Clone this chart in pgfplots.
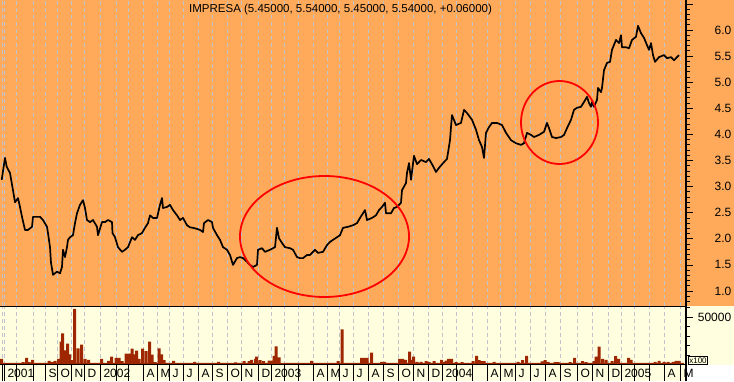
\documentclass[border=0pt]{standalone}
\usepackage{fontspec}
\setmainfont{Liberation Sans}
\usepackage{pgfplots}
\pgfplotsset{compat=1.18}
\definecolor{bgorange}{RGB}{255,170,90}
\definecolor{paleyel}{RGB}{255,255,224}
\definecolor{volbar}{RGB}{158,38,0}
\definecolor{gridc}{RGB}{195,195,205}
\begin{document}
\begin{tikzpicture}
\useasboundingbox (0pt,0pt) rectangle (734pt,381pt);
\fill[bgorange] (0pt,75pt) rectangle (734pt,381pt);
\fill[paleyel] (0pt,16.5pt) rectangle (734pt,75pt);
\fill[paleyel] (0pt,0pt) rectangle (686pt,16.5pt);
\pgfplotsset{
  common/.style={scale only axis, width=686pt, xmin=0, xmax=686, clip mode=individual,
    axis line style={draw=none},
    xtick={2,4,16,33,45,57,71,84,100,116,128,143,157,169,183,198,212,227,241,258,271,284,298,313,327,339,353,368,383,398,413,428,442,456,472,487,500,515,530,545,560,577,592,608,621,634,649,664,680},
    xmajorgrids, major x grid style={gridc, dash pattern=on 4pt off 3pt, line width=0.8pt},
    tick align=outside, ytick pos=right, yticklabel pos=right, xtick pos=bottom,
    major tick length=7pt, minor tick length=4pt,
    every tick/.style={black, line width=0.8pt},
    yticklabel style={anchor=east, xshift=41.8pt, font=\fontsize{12}{12}\selectfont},
  }
}
\begin{axis}[common, at={(0pt,75pt)}, anchor=south west, height=306pt, ymin=0.7126, ymax=6.575,
  xticklabels={}, xtick style={draw=none},
  ytick={1,1.5,2,2.5,3,3.5,4,4.5,5,5.5,6,6.5},
  yticklabels={1.0,1.5,2.0,2.5,3.0,3.5,4.0,4.5,5.0,5.5,6.0,},
  minor ytick={0.8,0.9,1.1,1.2,1.3,1.4,1.6,1.7,1.8,1.9,2.1,2.2,2.3,2.4,2.6,2.7,2.8,2.9,3.1,3.2,3.3,3.4,3.6,3.7,3.8,3.9,4.1,4.2,4.3,4.4,4.6,4.7,4.8,4.9,5.1,5.2,5.3,5.4,5.6,5.7,5.8,5.9,6.1,6.2,6.3,6.4}]
\addplot[black, line width=1.7pt, line join=round] coordinates {
(1.7,3.13) (5,3.55) (6.7,3.38) (10,3.26) (13,2.93) (15,2.70) (18,2.78) (20,2.61) (22,2.42) (25,2.17) (28,2.17) (32,2.23) (33,2.42) (37,2.42) (40,2.42) (43,2.36) (47,2.23) (48,2.11) (50,1.84) (51,1.54) (53,1.31) (57,1.37) (60,1.34) (62,1.46) (63,1.79) (65,1.65) (67,1.84) (68,1.98) (70,2.03) (73,2.07) (75,2.30) (77,2.49) (80,2.65) (83,2.74) (85,2.59) (87,2.36) (90,2.32) (93,2.36) (97,2.23) (98,2.07) (102,2.32) (105,2.32) (108,2.36) (112,2.32) (112.5,2.11)
(115,2.03) (118,1.84) (122,1.75) (125,1.79) (128,1.84) (132,2.03) (135,1.98) (138,2.07) (142,2.11) (145,2.21) (148,2.30) (150,2.45) (153,2.40) (157,2.40) (160,2.65) (162,2.78) (163,2.59) (167,2.61) (170,2.65) (173,2.55) (177,2.45) (180,2.36) (183,2.40) (187,2.26) (190,2.22) (193,2.21) (197,2.19) (200,2.17) (203,2.13) (204,2.30) (208,2.36) (212,2.32) (213,2.21) (217,2.07) (220,1.98) (223,1.84) (227,1.79) (230,1.69) (233,1.50) (237,1.63) (240,1.65) (243,1.63) (247,1.56) (250,1.50) (253,1.46) (257,1.50) (258,1.79) (262,1.82) (265,1.75) (270,1.79) (275,1.84) (277,2.21) (279,2.01) (282,1.92) (285,1.84) (290,1.82) (293,1.79) (297,1.65) (300,1.63) (303,1.63) (307,1.69) (310,1.69) (315,1.79) (318,1.73) (323,1.75) (327,1.88) (330,1.94) (333,1.98) (337,2.03) (340,2.07) (343,2.21) (348,2.23) (353,2.26) (357,2.30) (360,2.40) (363,2.49) (365,2.55) (367,2.36) (372,2.40) (376,2.45) (379,2.55) (382,2.61) (385,2.69) (386,2.49) (391,2.49) (394,2.59) (397,2.61) (401,2.69) (402,2.93) (406,3.07) (407,3.26) (409,3.45) (411,3.13) (414,3.59) (417,3.43) (421,3.51) (426,3.47) (429,3.53) (432,3.43) (436,3.28) (439,3.36) (444,3.47) (447,3.53) (450,3.89) (451,4.14) (452,4.37) (456,4.18) (461,4.22) (464,4.47) (467,4.41) (472,4.28) (476,4.09) (479,3.89) (482,3.76) (484,3.55) (486,4.03) (489,4.14) (492,4.22) (497,4.22) (502,4.18) (506,4.03) (511,3.89) (516,3.83) (521,3.80) (524,3.83) (527,4.03) (531,3.99) (534,3.95) (539,3.99) (544,4.05) (547,4.22) (549,4.12) (552,3.95) (556,3.93) (561,3.95) (564,3.99) (567,4.12) (571,4.28) (574,4.47) (577,4.51) (581,4.53) (584,4.62) (587,4.72) (589,4.60) (591,4.53) (592,4.62) (594,4.53) (597,4.66) (598,4.89) (601,4.81) (602,4.89) (604,5.23) (607,5.37) (610,5.39) (612,5.62) (616,5.81) (619,5.75) (621,5.90) (622,5.67) (626,5.67) (629,5.65) (632,5.81) (636,5.87) (638,6.08) (641,5.94) (644,5.85) (647,5.71) (649,5.62) (651,5.75) (653,5.52) (655,5.39) (659,5.48) (664,5.52) (667,5.46) (671,5.48) (674,5.42) (677,5.48) (679,5.52)
};
\end{axis}
\begin{axis}[common, at={(0pt,16.5pt)}, anchor=south west, height=58.5pt, ymin=0, ymax=61580,
  ytick={50000}, yticklabels={50000}, minor ytick={10000,20000,30000,40000,60000},
  scaled y ticks=false, xtick style={draw=none},
  xticklabels={,2001,,,S,O,N,D,2002,,,A,M,J,J,A,S,O,N,D,2003,,,A,M,J,J,A,S,O,N,D,2004,,,A,M,J,J,A,S,O,N,D,2005,,,A,M},
  xticklabel style={anchor=west, yshift=-1.5pt, font=\fontsize{12}{12}\selectfont}]
\addplot[ybar, bar width=6, bar shift=0pt, fill=volbar, draw=none] coordinates {
(3,1800)(9,1800)(15,1800)(21,1800)(27,1800)(33,1800)(39,1800)(45,1800)(51,1800)(57,1800)(63,1800)(69,1800)(75,1800)(81,1800)(87,1800)(93,1800)(99,1800)(105,1800)(111,1800)(117,1800)(123,1800)(129,1800)(135,1800)(141,1800)(147,1800)(153,1800)(159,1800)(165,1800)(171,1800)(177,1800)(183,1800)(189,1800)(195,1800)(201,1800)(207,1800)(213,1800)(219,1800)(225,1800)(231,1800)(237,1800)(243,1800)(249,1800)(255,1800)(261,1800)(267,1800)(273,1800)(279,1800)(285,1800)(291,1800)(297,1800)(303,1800)(309,1800)(315,1800)(321,1800)(327,1800)(333,1800)(339,1800)(345,1800)(351,1800)(357,1800)(363,1800)(369,1800)(375,1800)(381,1800)(387,1800)(393,1800)(399,1800)(405,1800)(411,1800)(417,1800)(423,1800)(429,1800)(435,1800)(441,1800)(447,1800)(453,1800)(459,1800)(465,1800)(471,1800)(477,1800)(483,1800)(489,1800)(495,1800)(501,1800)(507,1800)(513,1800)(519,1800)(525,1800)(531,1800)(537,1800)(543,1800)(549,1800)(555,1800)(561,1800)(567,1800)(573,1800)(579,1800)(585,1800)(591,1800)(597,1800)(603,1800)(609,1800)(615,1800)(621,1800)(627,1800)(633,1800)(639,1800)(645,1800)(651,1800)(657,1800)(663,1800)(669,1800)(675,1800)(681,1800)
};
\addplot[ybar, bar width=3, bar shift=0pt, fill=volbar, draw=none] coordinates {
(1.5,6000)(23,2500)(26.5,7100)(29,2500)(32.5,5000)(49,3900)(52,2800)(55,3900)(58.5,6000)(61,24000)(62.5,32700)(65,15000)(67.5,22000)(69.5,10600)(71.5,4600)(74.5,58600)(78,17000)(81.5,21000)(85,6000)(88.5,5000)(101.5,6000)(108.5,3900)(111.5,8200)(116,7100)(119,7100)(122,3500)(126,11400)(129,11400)(132,16700)(134.5,10600)(136.5,14600)(139,6000)(142.5,16700)(146,14200)(149.5,24100)(152,10300)(155,2500)(159,17000)(161.5,10600)(164,4600)(173.5,3900)(194.5,2800)(218.5,2800)(235.5,2200)(244,3500)(249,3500)(251.5,5000)(255.5,6000)(256.5,8200)(260,4600)(263.5,3500)(269,4200)(272,4200)(274,9200)(276,19000)(279,7400)(311.5,3900)(338,3500)(342,36900)
(361.5,7100)(364.5,7100)(367,7100)(371.5,12400)(381.5,2800)(384.5,2800)(399.5,6000)(402.5,6000)(405.5,5000)(409.5,13500)(412,5000)(413.5,8200)(417,2800)(421,2800)(426,3500)(429,2500)(434,3500)(441.5,5000)(444,2500)(446,4200)(448.5,6000)(451.5,6000)(456,2500)(462,2500)(473,3500)(476.5,9200)(479,4600)(481.5,3500)(484,3500)(494,2800)(518,2800)(522.5,4600)(526.5,9200)(542,3200)(545,4600)(548,2800)(555,2500)(558,2500)(570,2500)(574.5,7100)(582.5,3500)(586,2500)(594,3500)(596,8200)(599,18800)(602.5,6000)(606,5000)(612,3500)(615.5,8900)(618.5,6000)(628.5,7100)(631,5000)(655,2800)(659,3900)(664,2800)(668,2800)(673,2800)(676,3900)(679,3900)
};
\end{axis}
% panel borders and label strip separators
\draw[black, line width=1.2pt] (686pt,0pt) -- (686pt,381pt);
\draw[black, line width=1pt] (0pt,75pt) -- (686pt,75pt);
\draw[black, line width=1pt] (0pt,16.5pt) -- (686pt,16.5pt);
\foreach \t in {2,4,16,33,45,57,71,84,100,116,128,143,157,169,183,198,212,227,241,258,271,284,298,313,327,339,353,368,383,398,413,428,442,456,472,487,500,515,530,545,560,577,592,608,621,634,649,664,680}
  {\draw[black, line width=0.8pt] (\t pt,0pt) -- (\t pt,16.5pt);}
% annotation ellipses
\draw[red, line width=1.8pt] (324.5pt,144.5pt) ellipse [x radius=84.5pt, y radius=60.5pt];
\draw[red, line width=1.8pt] (559.5pt,258.5pt) ellipse [x radius=38.5pt, y radius=41.5pt];
\node[anchor=west, inner sep=0pt, font=\fontsize{11.5}{12}\selectfont] at (189pt,371.5pt) {IMPRESA (5.45000, 5.54000, 5.45000, 5.54000, +0.06000)};
\node[draw, line width=0.6pt, inner sep=1pt, anchor=south west, font=\fontsize{8}{8}\selectfont] at (688pt,16.5pt) {x100};
\end{tikzpicture}
\end{document}
